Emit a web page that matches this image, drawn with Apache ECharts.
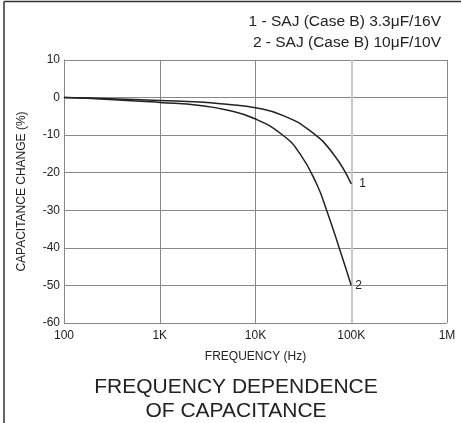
<!DOCTYPE html>
<html>
<head>
<meta charset="utf-8">
<script src="https://cdn.jsdelivr.net/npm/echarts@6/dist/echarts.min.js"></script>
<style>
html,body{margin:0;padding:0;background:#fff;}
#c{width:461px;height:423px;}
</style>
</head>
<body>
<div id="c"></div>
<script>
var legendLines = ['1 - SAJ (Case B) 3.3\u03bcF/16V', '2 - SAJ (Case B) 10\u03bcF/10V'];
var chartTitle = 'FREQUENCY DEPENDENCE\nOF CAPACITANCE';
var xTickLabels = {100: '100', 1000: '1K', 10000: '10K', 100000: '100K', 1000000: '1M'};
var yTicks = [10, 0, -10, -20, -30, -40, -50, -60];

var freq1 = [100, 300, 1000, 2630, 5000, 10000, 19500, 37000, 65000, 100000];
var cap1  = [0, -0.3, -0.8, -1.2, -1.8, -2.7, -4.8, -8.8, -15, -23];
var freq2 = [100, 300, 1000, 2630, 5000, 10000, 19500, 29200, 43500, 55300, 76400, 100000];
var cap2  = [0, -0.5, -1.3, -2.1, -3.3, -5.7, -10.1, -15, -23, -30, -40.7, -50];

function pairs(xs, ys){ return xs.map(function(x,i){ return [x, ys[i]]; }); }

var font = 'Liberation Sans, Arial, sans-serif';
var chart = echarts.init(document.getElementById('c'), null, {renderer:'canvas'});
chart.setOption({
  animation: false,
  backgroundColor: '#fff',
  title: [
    {text: legendLines[0], right: 15, top: 9, textStyle:{fontFamily:font, fontSize:15.5, fontWeight:'normal', color:'#222'}},
    {text: legendLines[1], right: 15, top: 30, textStyle:{fontFamily:font, fontSize:15.5, fontWeight:'normal', color:'#222'}},
    {text: chartTitle, left: 231, textAlign:'center', top: 370, textStyle:{fontFamily:font, fontSize:21, fontWeight:'normal', color:'#222', lineHeight:24}}
  ],
  graphic: [
    {type:'line', shape:{x1:4, y1:1.5, x2:461, y2:1.5}, style:{stroke:'#333', lineWidth:1.5}},
    {type:'line', shape:{x1:4, y1:1.5, x2:4, y2:423}, style:{stroke:'#333', lineWidth:1.5}}
  ],
  grid: {left: 64, right: 14, top: 60, bottom: 100},
  xAxis: {
    type: 'log', logBase: 10, min: 100, max: 1000000,
    name: 'FREQUENCY (Hz)', nameLocation: 'middle', nameGap: 28,
    nameTextStyle: {fontFamily: font, fontSize: 12, color: '#222'},
    axisLine: {show: true, lineStyle: {color: '#888', width: 1}},
    axisTick: {show: false},
    axisLabel: {fontFamily: font, fontSize: 12, color: '#222', margin: 7, showMinLabel: true, showMaxLabel: true,
      formatter: function(v){ var k = Math.round(v); return xTickLabels[k] !== undefined ? xTickLabels[k] : ''; }},
    splitLine: {show: true, showMaxLine: true, lineStyle: {color: '#888', width: 1}}
  },
  yAxis: {
    type: 'value', min: -60, max: 10, interval: 10,
    name: 'CAPACITANCE CHANGE (%)', nameLocation: 'middle', nameGap: 36, nameRotate: 90,
    nameTextStyle: {fontFamily: font, fontSize: 12, color: '#222'},
    axisLine: {show: true, lineStyle: {color: '#888', width: 1}},
    axisTick: {show: false},
    axisLabel: {fontFamily: font, fontSize: 12, color: '#222', margin: 4},
    splitLine: {show: true, showMaxLine: true, lineStyle: {color: '#888', width: 1}}
  },
  series: [
    {type: 'line', data: pairs(freq1, cap1), smooth: 0.5, showSymbol: false, z: 5,
     lineStyle: {color: '#222', width: 1.5},
     endLabel: {show: true, formatter: '1', fontFamily: font, fontSize: 12, color: '#222', distance: 8},
     markLine: {silent: true, symbol: 'none', label: {show: false}, lineStyle: {color: '#c8c8c8', width: 2, type: 'solid'}, data: [{xAxis: 100000}], z: 1}
    },
    {type: 'line', data: pairs(freq2, cap2), smooth: 0.5, showSymbol: false, z: 5,
     lineStyle: {color: '#222', width: 1.5},
     endLabel: {show: true, formatter: '2', fontFamily: font, fontSize: 12, color: '#222', distance: 4}
    }
  ]
});
</script>
</body>
</html>
